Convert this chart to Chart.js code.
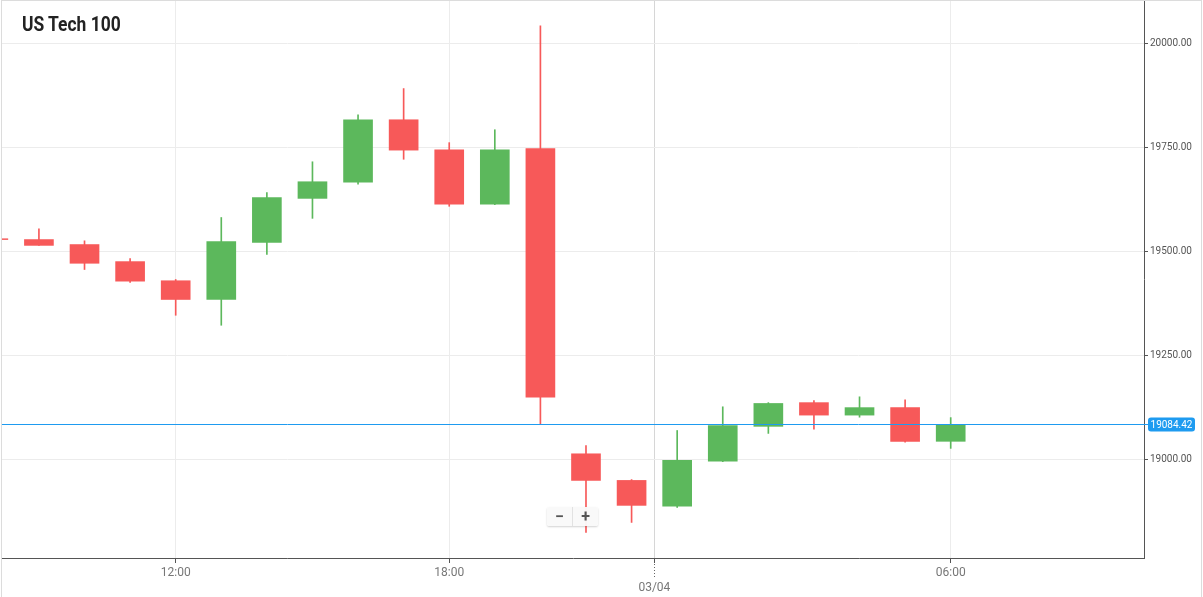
<!DOCTYPE html>
<html>
<head>
<meta charset="utf-8">
<title>US Tech 100</title>
<script src="https://cdn.jsdelivr.net/npm/chart.js@4.4.1/dist/chart.umd.min.js"></script>
<style>
  html, body { margin: 0; padding: 0; background: #fff; }
  #wrap { position: relative; width: 1203px; height: 597px; overflow: hidden; }
  #title {
    position: absolute; left: 22px; top: 14px;
    font: bold 21px "Roboto", sans-serif;
    line-height: 21px; color: #222;
    transform: scaleX(0.83); transform-origin: 0 0;
  }
  #zoom {
    position: absolute; left: 547px; top: 507px; width: 51px; height: 19px;
    display: flex; background: rgba(249, 249, 249, 0.96);
    box-shadow: 0 1px 2px rgba(0, 0, 0, 0.18); border-radius: 2px;
  }
  #zoom span { flex: 1; text-align: center; font: bold 16px/19px "Roboto", sans-serif; color: #555; }
  #zoom span + span { border-left: 1px solid #e2e2e2; }
</style>
</head>
<body>
<div id="wrap">
  <canvas id="chart" width="1203" height="597"></canvas>
  <div id="title">US Tech 100</div>
  <div id="zoom"><span>−</span><span>+</span></div>
</div>
<script>
// hourly candles, slot index on the x axis (21:00 break skipped)
const slots  = [-1, 0, 1, 2, 3, 4, 5, 6, 7, 8, 9, 10, 11, 12, 13, 14, 15, 16, 17, 18, 19, 20]
const opens  = [19531, 19529, 19517, 19476, 19430, 19385, 19522, 19628, 19667, 19817, 19745, 19614, 19748, 19014, 18950, 18888, 18996, 19080, 19137, 19107, 19125, 19044]
const highs  = [19536, 19555, 19526, 19483, 19433, 19582, 19642, 19716, 19829, 19892, 19762, 19793, 20043, 19034, 18952, 19070, 19127, 19137, 19142, 19151, 19144, 19101]
const lows   = [19526, 19515, 19457, 19426, 19347, 19323, 19493, 19580, 19662, 19722, 19609, 19613, 19084, 18825, 18849, 18885, 18995, 19063, 19073, 19102, 19042, 19027]
const closes = [19529, 19515, 19472, 19429, 19385, 19524, 19630, 19668, 19817, 19744, 19614, 19745, 19150, 18950, 18890, 18998, 19082, 19135, 19107, 19125, 19044, 19084.42]

const xTickSlots  = [3, 9, 13.5, 20]
const xTickLabels = ["12:00", "18:00", ["", "03/04"], "06:00"]
const yTicks = [19000, 19250, 19500, 19750, 20000]
const lastPrice = 19084.42

const X_MIN = -0.81
const X_MAX = 24.24

const UP = "#5cb85c"
const DOWN = "#f75959"
const BLUE = "#1e9bf0"

let colors = opens.map((o, i) => (closes[i] >= o ? UP : DOWN))

const overlay = {
  id: "overlay",
  afterDatasetsDraw(chart) {
    const { ctx, chartArea, scales } = chart
    ctx.save()

    // last price label on the axis
    let y = Math.floor(scales.y.getPixelForValue(lastPrice))
    ctx.fillStyle = BLUE
    ctx.fillRect(chartArea.right, y, 4, 1)
    ctx.beginPath()
    ctx.roundRect(chartArea.right + 4, y - 6.5, 47, 14, 3)
    ctx.fill()
    ctx.fillStyle = "#fff"
    ctx.font = "10px Roboto"
    ctx.textAlign = "center"
    ctx.textBaseline = "middle"
    ctx.fillText(lastPrice.toFixed(2), chartArea.right + 27.5, y + 1)

    // dotted day separator under the axis
    let x = Math.round(scales.x.getPixelForValue(13.5)) + 0.5
    ctx.strokeStyle = "#666"
    ctx.lineWidth = 1
    ctx.setLineDash([1, 2])
    ctx.beginPath()
    ctx.moveTo(x, chartArea.bottom + 6)
    ctx.lineTo(x, chartArea.bottom + 20)
    ctx.stroke()
    ctx.setLineDash([])

    // outer frame
    ctx.strokeStyle = "#dcdcdc"
    ctx.strokeRect(1.5, 0.5, 1200, 600)
    ctx.restore()
  },
}

const config = {
  type: "bar",
  data: {
    datasets: [
      {
        type: "line",
        data: [
          { x: X_MIN, y: lastPrice },
          { x: X_MAX, y: lastPrice },
        ],
        borderColor: BLUE,
        borderWidth: 1,
        pointRadius: 0,
        order: -1,
      },
      {
        data: slots.map((s, i) => ({ x: s, y: [opens[i], closes[i]] })),
        backgroundColor: colors,
        barThickness: 29,
        grouped: false,
        order: 0,
      },
      {
        data: slots.map((s, i) => ({ x: s, y: [lows[i], highs[i]] })),
        backgroundColor: colors,
        barThickness: 1,
        grouped: false,
        order: 1,
      },
    ],
  },
  options: {
    responsive: false,
    animation: false,
    devicePixelRatio: 1,
    layout: { padding: { left: 2, top: 0, right: 0, bottom: 0 } },
    plugins: {
      legend: { display: false },
      tooltip: { enabled: false },
    },
    scales: {
      x: {
        type: "linear",
        offset: false,
        min: X_MIN,
        max: X_MAX,
        afterBuildTicks: (s) => {
          s.ticks = xTickSlots.map((v) => ({ value: v }))
        },
        afterFit: (s) => {
          s.height = 39
          s.paddingLeft = 0
          s.paddingRight = 0
        },
        ticks: {
          callback: (v, i) => xTickLabels[i],
          color: "#777",
          font: { family: "Roboto", size: 12 },
          padding: 3,
          maxRotation: 0,
          autoSkip: false,
        },
        grid: {
          offset: false,
          color: (c) => (c.tick && c.tick.value === 13.5 ? "#d6d6d6" : "#ececec"),
          tickColor: "#555",
          tickLength: 5,
        },
        border: { color: "#555" },
      },
      y: {
        position: "right",
        min: 18763.5,
        max: 20104.9,
        afterBuildTicks: (s) => {
          s.ticks = yTicks.map((v) => ({ value: v }))
        },
        afterFit: (s) => {
          s.width = 59
          s.paddingTop = 0
          s.paddingBottom = 0
        },
        ticks: {
          callback: (v) => Number(v).toFixed(2),
          color: "#555",
          font: { family: "Roboto", size: 10 },
          padding: 2,
        },
        grid: {
          color: "#ececec",
          tickColor: "#555",
          tickLength: 4,
        },
        border: { color: "#555" },
      },
    },
  },
  plugins: [overlay],
}

const chart = new Chart(document.getElementById("chart"), config)
</script>
</body>
</html>
